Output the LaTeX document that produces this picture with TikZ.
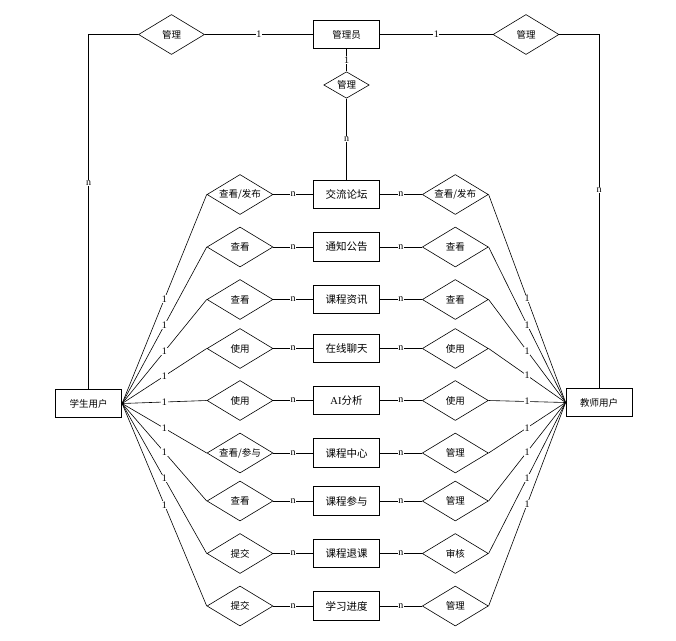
\documentclass[tikz,border=0pt]{standalone}
\usepackage{fontspec}
\setmainfont{Liberation Serif}
\newfontfamily\cjk{Noto Sans CJK SC}
\usetikzlibrary{shapes.geometric}
\begin{document}
\begin{tikzpicture}[x=1pt,y=-1pt,
  ent/.style={draw, line width=0.8pt, minimum width=66pt, minimum height=28.5pt, inner sep=0pt, font=\cjk\fontsize{9.5}{11}\selectfont},
  ment/.style={ent, font=\cjk\fontsize{10.5}{12}\selectfont},
  rel/.style={draw, diamond, line width=0.6pt, minimum width=66pt, minimum height=40pt, inner sep=0pt, shape aspect=1.65, font=\cjk\fontsize{9.5}{11}\selectfont},
  conn/.style={line width=0.6pt},
  card/.style={fill=white, inner sep=0.6pt, font=\fontsize{10}{11}\selectfont}]
\useasboundingbox (0,0) rectangle (676,640);

\node[ent] (adm) at (346.5,34.5) {管理员};
\node[rel] (tl) at (171.5,34.5) {管理};
\node[rel] (tr) at (526,34.5) {管理};
\node[rel, minimum width=45.5pt, minimum height=26.5pt, shape aspect=1.7] (tm) at (346.5,85) {管理};
\node[ent] (stu) at (88.7,403.5) {学生用户};
\node[ent] (tea) at (599,402.5) {教师用户};

\foreach \i/\y/\e/\l/\r in {
  1/194.5/交流论坛/{查看/发布}/{查看/发布},
  2/247/通知公告/查看/查看,
  3/299.5/课程资讯/查看/查看,
  4/348.5/在线聊天/使用/使用,
  5/400.5/{{\rmfamily AI}分析}/使用/使用,
  6/453/课程中心/{查看/参与}/管理,
  7/501/课程参与/查看/管理,
  8/553.5/课程退课/提交/审核,
  9/606/学习进度/提交/管理}{
  \node[rel] (L\i) at (240,\y) {\l};
  \node[ment] (E\i) at (346.5,\y) {\e};
  \node[rel] (R\i) at (455.3,\y) {\r};
  \draw[conn] (L\i) -- node[card]{n} (E\i);
  \draw[conn] (E\i) -- node[card]{n} (R\i);
  \draw[conn] (stu.east) -- node[card]{1} (L\i.west);
  \draw[conn] (R\i.east) -- node[card]{1} (tea.west);
}

\draw[conn] (tl) -- node[card]{1} (adm);
\draw[conn] (adm) -- node[card]{1} (tr);
\draw[conn] (adm) -- node[card]{1} (tm);
\draw[conn] (tm) -- node[card]{n} (E1);
\draw[conn] (tl.west) -| node[card,pos=0.71]{n} (stu.north);
\draw[conn] (tr.east) -| node[card,pos=0.72]{n} (tea.north);
\end{tikzpicture}
\end{document}
